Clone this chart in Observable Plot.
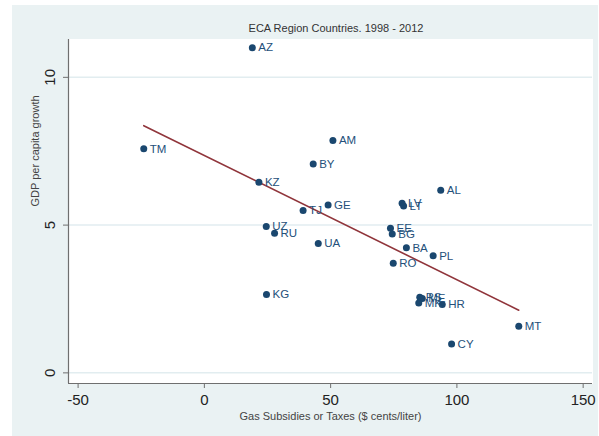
<!DOCTYPE html>
<html>
<head>
<meta charset="utf-8">
<script src="https://cdn.jsdelivr.net/npm/d3@7"></script>
<script src="https://cdn.jsdelivr.net/npm/@observablehq/plot@0.6"></script>
<style>
  body { margin: 0; background: #ffffff; font-family: "Liberation Sans", Arial, sans-serif; }
  #wrap { position: absolute; left: 12px; top: 5px; width: 586px; height: 431px; background: #eaf2f3; }
  #title { height: 28px; box-sizing: border-box; padding-top: 17px; padding-left: 62px;
           font-size: 11px; line-height: 12px; color: #333333; text-align: center; }
  #chart svg { display: block; }
</style>
</head>
<body>
<div id="wrap">
  <div id="title">ECA Region Countries. 1998 - 2012</div>
  <div id="chart"></div>
</div>
<script>
// Country codes, fuel subsidy/tax level (US cents per liter) and average GDP per capita growth (%)
const countries = ["AZ", "AM", "TM", "BY", "KZ", "AL", "LV", "LT", "GE", "TJ", "UZ", "EE", "BG",
                   "RU", "BA", "UA", "PL", "RO", "KG", "RS", "ME", "MK", "HR", "MT", "CY"];
const gasPrice = [19.0, 50.9, -24.0, 43.1, 21.6, 93.6, 78.3, 78.9, 49.0, 39.1, 24.5, 73.7, 74.4,
                  27.8, 80.0, 45.1, 90.6, 74.8, 24.6, 85.3, 86.3, 84.9, 94.2, 124.5, 97.9];
const gdpGrowth = [11.0, 7.86, 7.58, 7.07, 6.45, 6.18, 5.74, 5.65, 5.68, 5.49, 4.95, 4.89, 4.70,
                   4.72, 4.23, 4.38, 3.96, 3.71, 2.65, 2.56, 2.52, 2.36, 2.31, 1.58, 0.98];

const xTicks = [-50, 0, 50, 100, 150];
const yTicks = [0, 5, 10];
const xDomain = [-53.8, 153.7];
const yDomain = [-0.36, 11.28];
const xTitle = "Gas Subsidies or Taxes ($ cents/liter)";
const yTitle = "GDP per capita growth";

const rows = countries.map((code, i) => ({code, x: gasPrice[i], y: gdpGrowth[i]}));

const navy = "#1a476f";
const axisGrey = "#6f6f6f";
const plain = d => String(d); // keep ASCII hyphen for negatives

const chart = Plot.plot({
  width: 586,
  height: 403,
  marginLeft: 56,
  marginRight: 6,
  marginTop: 6,
  marginBottom: 53,
  style: {fontFamily: "Liberation Sans, Arial, sans-serif", background: "transparent", overflow: "visible"},
  x: {domain: xDomain},
  y: {domain: yDomain},
  marks: [
    // white plot region
    Plot.frame({fill: "white", stroke: "white"}),
    // horizontal grid lines
    Plot.ruleY(yTicks, {stroke: "#e2edf0", strokeWidth: 1.5}),
    // axis lines
    Plot.ruleX([xDomain[0]], {stroke: axisGrey, strokeWidth: 1.2}),
    Plot.ruleY([yDomain[0]], {stroke: axisGrey, strokeWidth: 1.2}),
    Plot.axisX({ticks: xTicks, tickFormat: plain, tickSize: 5, tickPadding: 6, fontSize: 15,
                stroke: axisGrey, fill: "#222", label: null}),
    Plot.axisY({ticks: yTicks, tickFormat: plain, tickSize: 5, tickRotate: -90, textAnchor: "middle",
                lineAnchor: "middle", tickPadding: 13, fontSize: 15, stroke: axisGrey, fill: "#222", label: null}),
    // axis titles
    Plot.text([xTitle], {frameAnchor: "bottom", dy: 36, fontSize: 11, fill: "#444"}),
    Plot.text([yTitle], {frameAnchor: "left", rotate: -90, dx: -33, dy: -5, fontSize: 11, fill: "#444"}),
    // fitted values
    Plot.linearRegressionY(rows, {x: "x", y: "y", ci: 0, stroke: "#90353b", strokeWidth: 1.6}),
    // countries
    Plot.dot(rows, {x: "x", y: "y", r: 3.5, fill: navy}),
    Plot.text(rows, {x: "x", y: "y", text: "code", textAnchor: "start", dx: 6, fontSize: 11.5, fill: "#24507a"})
  ]
});

document.getElementById("chart").appendChild(chart);
</script>
</body>
</html>
